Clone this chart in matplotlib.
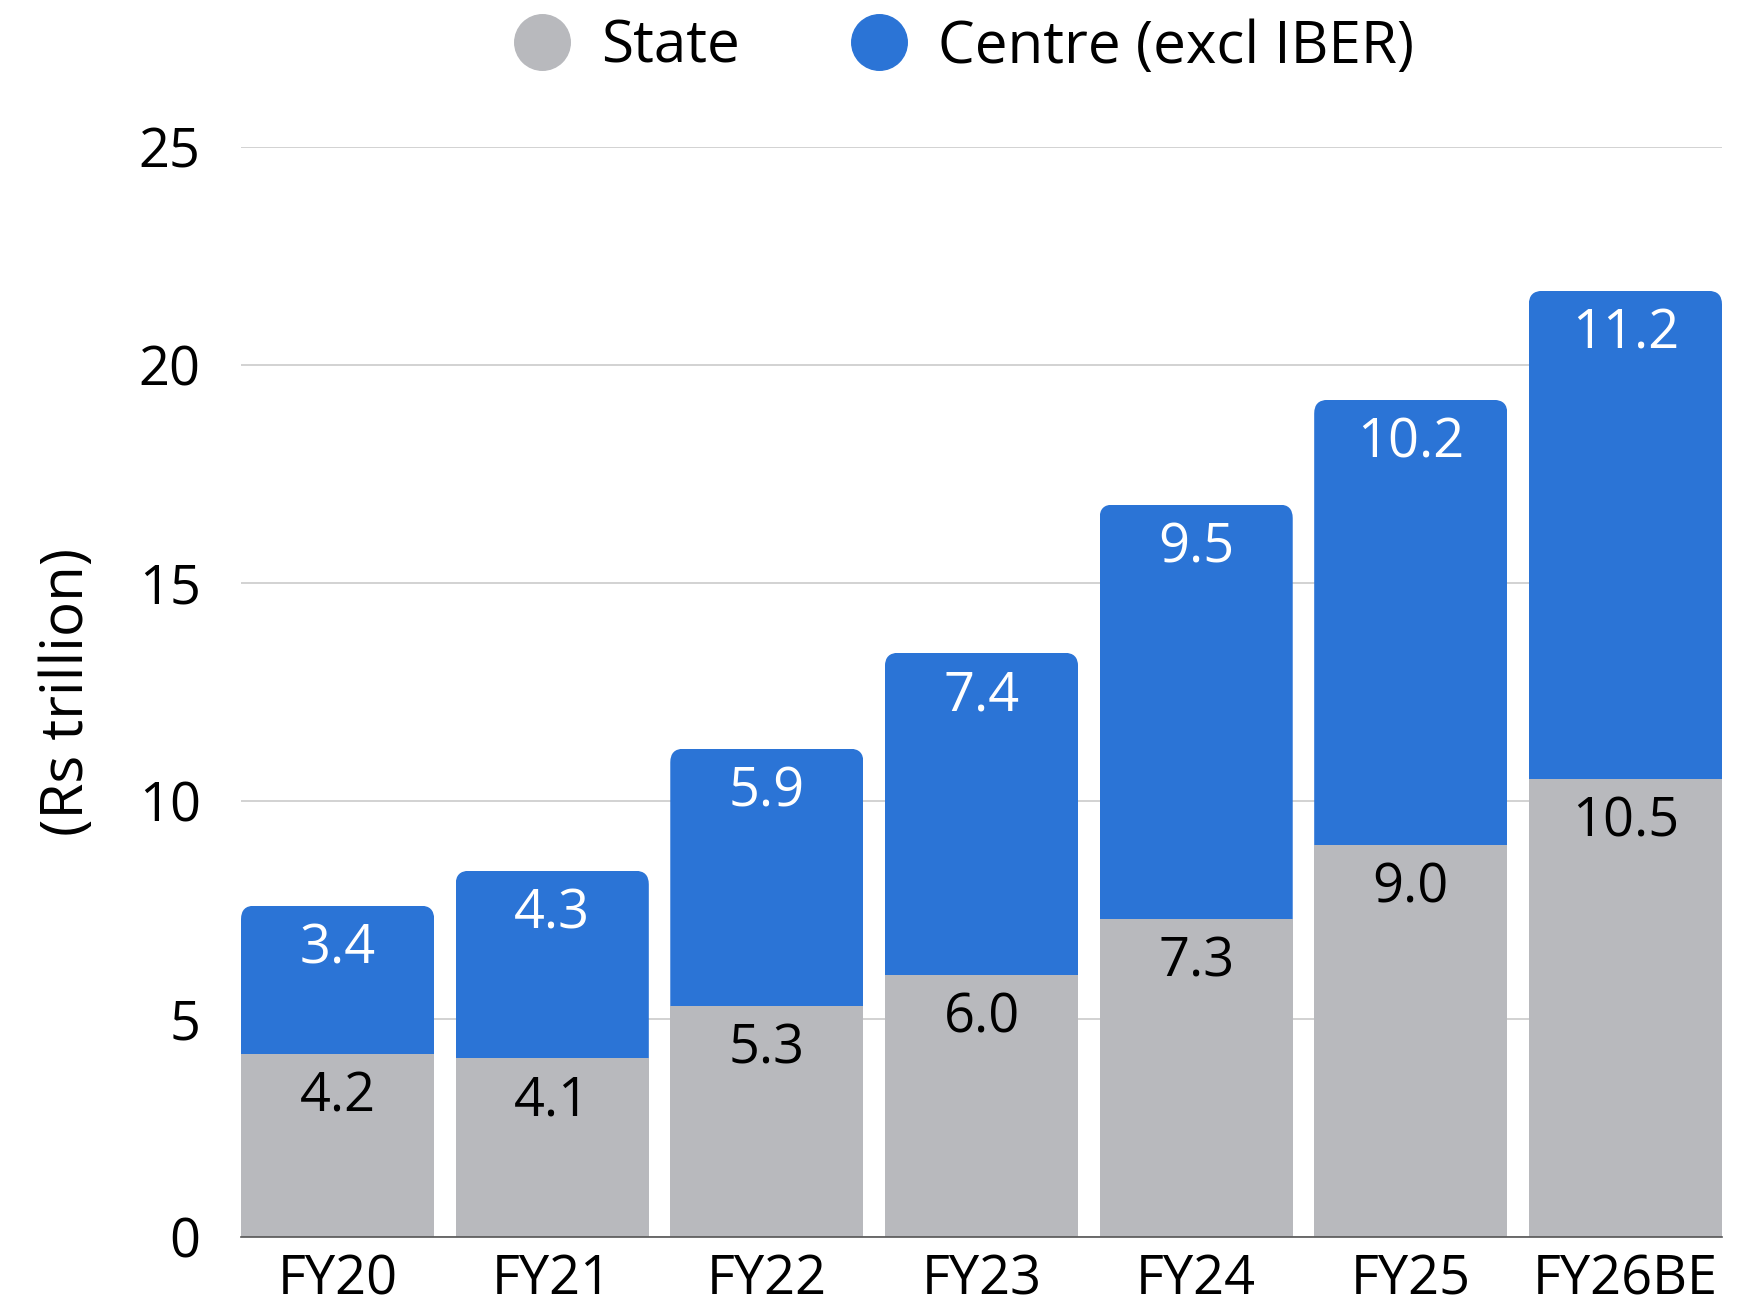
import numpy as np
import matplotlib.pyplot as plt
from matplotlib.patches import FancyBboxPatch
from matplotlib.lines import Line2D

plt.rcParams['font.family'] = ['Open Sans', 'DejaVu Sans']

anios = ["FY20", "FY21", "FY22", "FY23", "FY24", "FY25", "FY26BE"]
estado = [4.2, 4.1, 5.3, 6.0, 7.3, 9.0, 10.5]
centro = [3.4, 4.3, 5.9, 7.4, 9.5, 10.2, 11.2]
nombres = ["State", "Centre (excl IBER)"]

GRIS = "#B8B9BD"
AZUL = "#2B74D6"
ANCHO = 0.9
TAM = 39

fig = plt.figure(figsize=(17.48, 13.13), dpi=100)
ax = fig.add_axes([241 / 1748, 1 - 1237 / 1313, 1481 / 1748, 1090 / 1313])
x = np.arange(len(anios))

ax.set_xlim(-0.45, len(anios) - 0.55)
ax.set_ylim(0, 25)

b_est = ax.bar(x, estado, width=ANCHO, color=GRIS, zorder=2)
b_cen = ax.bar(x, centro, width=ANCHO, bottom=estado, color=AZUL, zorder=2)

# esquinas superiores redondeadas: recorte con caja redondeada
px_x = ax.transData.transform((1, 0))[0] - ax.transData.transform((0, 0))[0]
px_y = ax.transData.transform((0, 1))[1] - ax.transData.transform((0, 0))[1]
radio = 13.5 / px_x
aspecto = px_x / px_y
for r in b_cen:
    caja = FancyBboxPatch((r.get_x(), -2), r.get_width(), r.get_y() + r.get_height() + 2,
                          boxstyle=f"round,pad=0,rounding_size={radio}",
                          mutation_aspect=aspecto, transform=ax.transData,
                          facecolor="none", edgecolor="none")
    r.set_clip_path(caja)

for r, v in zip(b_est, estado):
    ax.annotate(f"{v:.1f}", (r.get_x() + r.get_width() / 2, r.get_height()),
                xytext=(0, -31), textcoords="offset points", ha="center", va="center",
                fontsize=TAM, color="black", zorder=3)
for r, v in zip(b_cen, centro):
    ax.annotate(f"{v:.1f}", (r.get_x() + r.get_width() / 2, r.get_y() + r.get_height()),
                xytext=(0, -31), textcoords="offset points", ha="center", va="center",
                fontsize=TAM, color="white", zorder=3)

ax.set_yticks([0, 5, 10, 15, 20, 25])
ax.yaxis.grid(True, color="#CFCFCF", linewidth=1.3, zorder=0)
ax.set_axisbelow(True)
for lado in ("top", "right", "left"):
    ax.spines[lado].set_visible(False)
ax.spines["bottom"].set_color("#555555")
ax.spines["bottom"].set_linewidth(1.2)
ax.tick_params(axis="both", length=0, labelsize=TAM)
ax.tick_params(axis="y", pad=29)
ax.tick_params(axis="x", pad=11)
ax.set_xticks(x)
ax.set_xticklabels(anios)

ax.set_ylabel("(Rs trillion)", fontsize=42)
ax.yaxis.set_label_coords(-0.097, 0.5)

manijas = [Line2D([], [], marker="o", linestyle="none", markersize=40,
                  markerfacecolor=c, markeredgecolor=c) for c in (GRIS, AZUL)]
ax.legend(manijas, nombres, loc="lower center", bbox_to_anchor=(0.478, 1.043),
          ncol=2, frameon=False, fontsize=42, handletextpad=0.0, columnspacing=1.4,
          borderaxespad=0)

fig.savefig("out.png", dpi=100)
